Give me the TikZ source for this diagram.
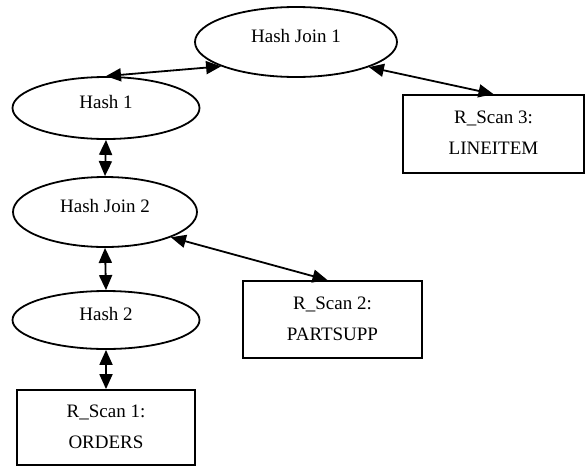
\documentclass[tikz,border=0pt]{standalone}
\usepackage{fontspec}
\setmainfont{Liberation Serif}
\usetikzlibrary{arrows.meta,shapes.geometric}

\tikzset{
  opnode/.style={draw, line width=1.8pt, ellipse, inner sep=0pt,
    font=\fontsize{19}{23}\selectfont, text height=0pt, text depth=0pt},
  scanbox/.style={draw, line width=1.8pt, rectangle, inner sep=0pt,
    align=center, font=\fontsize{19}{31}\selectfont,
    text height=41pt, text depth=0pt},
  flow/.style={line width=1.8pt,
    {Triangle[length=15pt,width=13pt]}-{Triangle[length=15pt,width=13pt]}}
}

\begin{document}
\begin{tikzpicture}[x=1pt, y=-1pt]
  % page frame
  \fill[white] (0,0) rectangle (586,466);
  \useasboundingbox (0,0) rectangle (586,466);

  % join / hash operators
  \node[opnode, minimum width=202pt, minimum height=70pt] (hj1) at (296,42) {Hash Join 1};
  \node[opnode, minimum width=187pt, minimum height=62pt] (h1)  at (106,108) {Hash 1};
  \node[opnode, minimum width=184pt, minimum height=70pt] (hj2) at (105,212) {Hash Join 2};
  \node[opnode, minimum width=187pt, minimum height=58pt] (h2)  at (106,320) {Hash 2};

  % relation scans
  \node[scanbox, minimum width=181pt, minimum height=78pt] (rs3) at (493.5,134) {R\_Scan 3:\\LINEITEM};
  \node[scanbox, minimum width=179pt, minimum height=77pt] (rs2) at (332.5,319.5) {R\_Scan 2:\\PARTSUPP};
  \node[scanbox, minimum width=178pt, minimum height=75pt] (rs1) at (106,427.5) {R\_Scan 1:\\ORDERS};

  % data flow
  \draw[flow] (h1.north) -- (hj1.198);
  \draw[flow] (hj1.341) -- (rs3.north);
  \draw[flow] (h1.south) -- (hj2.north);
  \draw[flow] (hj2.339) -- ([xshift=-5pt]rs2.north);
  \draw[flow] (hj2.south) -- (h2.north);
  \draw[flow] (h2.south) -- (rs1.north);
\end{tikzpicture}
\end{document}
